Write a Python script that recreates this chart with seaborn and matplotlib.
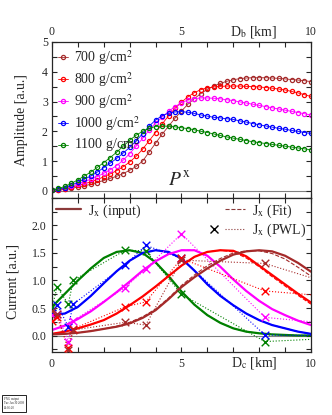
import numpy as np
import matplotlib
matplotlib.use('Agg')
import matplotlib.pyplot as plt
from matplotlib.lines import Line2D
from matplotlib.legend_handler import HandlerTuple
from matplotlib.ticker import MultipleLocator, FixedLocator, FormatStrFormatter
import seaborn as sns

# --- data ---
depths = ['700', '800', '900', '1000', '1100']
colors = ['#a52a2a', '#ff0000', '#ff00ff', '#0000ff', '#008000']

# top panel: amplitude vs D_b, sampled every 0.25 km
db_km = np.arange(0, 10.01, 0.25)
amp_700 = [0.02, 0.03, 0.05, 0.08, 0.13, 0.17, 0.22, 0.28, 0.35, 0.42, 0.49, 0.58, 0.69, 0.82, 1.00,
           1.30, 1.60, 1.90, 2.17, 2.44, 2.68, 2.91, 3.10, 3.27, 3.41, 3.52, 3.61, 3.68, 3.73, 3.77,
           3.79, 3.80, 3.80, 3.80, 3.79, 3.78, 3.76, 3.74, 3.72, 3.70, 3.67]
amp_800 = [0.02, 0.04, 0.07, 0.12, 0.18, 0.24, 0.30, 0.38, 0.47, 0.57, 0.68, 0.81, 0.97, 1.16, 1.40,
           1.68, 1.96, 2.24, 2.52, 2.77, 2.98, 3.16, 3.30, 3.40, 3.46, 3.49, 3.51, 3.52, 3.52, 3.52,
           3.51, 3.50, 3.49, 3.47, 3.45, 3.42, 3.39, 3.34, 3.29, 3.23, 3.17]
amp_900 = [0.03, 0.05, 0.09, 0.15, 0.23, 0.31, 0.39, 0.48, 0.59, 0.71, 0.85, 1.03, 1.25, 1.50, 1.76,
           2.04, 2.28, 2.48, 2.67, 2.83, 2.96, 3.05, 3.10, 3.12, 3.12, 3.11, 3.09, 3.06, 3.03, 2.99,
           2.95, 2.91, 2.87, 2.83, 2.79, 2.75, 2.71, 2.67, 2.63, 2.59, 2.55]
amp_1000 = [0.03, 0.06, 0.11, 0.19, 0.29, 0.39, 0.50, 0.63, 0.78, 0.93, 1.09, 1.27, 1.46, 1.68, 1.92,
            2.17, 2.38, 2.52, 2.61, 2.65, 2.66, 2.64, 2.60, 2.55, 2.51, 2.47, 2.45, 2.42, 2.40, 2.35,
            2.31, 2.26, 2.22, 2.18, 2.14, 2.10, 2.07, 2.03, 2.00, 1.96, 1.93]
amp_1100 = [0.03, 0.08, 0.15, 0.25, 0.37, 0.50, 0.63, 0.79, 0.95, 1.12, 1.30, 1.50, 1.70, 1.87, 2.00,
            2.10, 2.16, 2.18, 2.17, 2.15, 2.12, 2.09, 2.05, 2.00, 1.96, 1.91, 1.86, 1.81, 1.77, 1.73,
            1.69, 1.65, 1.62, 1.59, 1.56, 1.53, 1.50, 1.47, 1.44, 1.41, 1.38]

# bottom panel: current vs D_c, every 0.5 km
dc_km = np.arange(0, 10.01, 0.5)
cur_700 = [0.02, 0.03, 0.05, 0.08, 0.12, 0.16, 0.22, 0.32, 0.46, 0.66, 0.88, 1.06, 1.22, 1.36, 1.47,
           1.53, 1.55, 1.53, 1.45, 1.32, 1.16]
cur_800 = [0.03, 0.07, 0.13, 0.20, 0.28, 0.40, 0.55, 0.71, 0.89, 1.08, 1.27, 1.43, 1.52, 1.55, 1.54,
           1.44, 1.27, 1.10, 0.93, 0.76, 0.60]
cur_900 = [0.10, 0.18, 0.30, 0.44, 0.61, 0.79, 0.98, 1.18, 1.35, 1.48, 1.55, 1.55, 1.45, 1.25, 1.02,
           0.81, 0.63, 0.48, 0.37, 0.27, 0.19]
cur_1000 = [0.37, 0.40, 0.52, 0.72, 0.95, 1.17, 1.36, 1.50, 1.55, 1.52, 1.40, 1.18, 0.93, 0.72, 0.55,
            0.40, 0.28, 0.19, 0.13, 0.07, 0.03]
cur_1100 = [0.52, 0.76, 1.00, 1.22, 1.41, 1.52, 1.55, 1.50, 1.33, 1.08, 0.80, 0.56, 0.37, 0.23, 0.13,
            0.07, 0.04, 0.02, 0.01, 0.00, 0.00]

fit_700 = [0.02, 0.03, 0.05, 0.08, 0.12, 0.17, 0.24, 0.34, 0.48, 0.68, 0.91, 1.10, 1.27, 1.40, 1.50,
           1.54, 1.54, 1.49, 1.39, 1.24, 1.08]
fit_800 = [0.03, 0.07, 0.13, 0.20, 0.28, 0.40, 0.55, 0.71, 0.89, 1.08, 1.27, 1.43, 1.52, 1.55, 1.52,
           1.41, 1.25, 1.07, 0.90, 0.73, 0.57]
fit_900 = cur_900
fit_1000 = cur_1000
fit_1100 = cur_1100

# piecewise-linear nodes (crosses) and the value the dotted line runs on to at 10 km
pwl_x = [0.0, 0.2, 0.63, 0.82, 2.82, 3.62, 5.0, 8.22]
pwl_700 = [0.45, 0.40, -0.27, 0.10, 0.24, 0.19, 1.37, 1.31]
pwl_800 = [0.26, 0.33, -0.22, 0.12, 0.52, 0.61, 1.40, 0.81]
pwl_900 = [0.38, 0.40, -0.11, 0.27, 0.87, 1.21, 1.85, 0.33]
pwl_1000 = [0.41, 0.56, 0.16, 0.57, 1.28, 1.64, 1.40, 0.01]
pwl_1100 = [0.51, 0.88, 0.57, 1.00, 1.55, 1.54, 0.75, -0.11]
pwl_end = [1.05, 0.74, 0.25, 0.00, -0.07]

current_ticks = [0.0, 0.5, 1.0, 1.5, 2.0]

amps = [amp_700, amp_800, amp_900, amp_1000, amp_1100]
currents = [cur_700, cur_800, cur_900, cur_1000, cur_1100]
fits = [fit_700, fit_800, fit_900, fit_1000, fit_1100]
pwls = [pwl_700, pwl_800, pwl_900, pwl_1000, pwl_1100]

sns.set_style('ticks')
plt.rcParams['font.family'] = ['Liberation Serif', 'DejaVu Serif']
plt.rcParams['mathtext.fontset'] = 'stix'

fig = plt.figure(figsize=(3.32, 4.15), dpi=100)
ax1 = fig.add_axes([0.1566, 0.5229, 0.78, 0.3759])
ax2 = fig.add_axes([0.1566, 0.1518, 0.78, 0.3711])

# --- top panel ---
for d, c, a in zip(depths, colors, amps):
    sns.lineplot(x=db_km, y=a, color=c, lw=0.6, marker='o', markersize=3,
                 markerfacecolor='none', markeredgecolor=c, markeredgewidth=0.9,
                 label=f'{d} g/cm$^2$', ax=ax1)
ax1.axhline(0, color='grey', lw=0.8, zorder=0)
ax1.set_xlim(0, 10)
ax1.set_ylim(-0.24, 5)
ax1.xaxis.set_major_locator(MultipleLocator(5))
ax1.xaxis.set_minor_locator(MultipleLocator(1))
ax1.yaxis.set_major_locator(MultipleLocator(1))
ax1.yaxis.set_minor_locator(MultipleLocator(0.5))
ax1.tick_params(which='both', direction='in', top=True, right=True, labeltop=True,
                labelbottom=False, length=3.5, width=0.8, labelsize=8.5, pad=3)
ax1.set_ylabel('Amplitude [a.u.]', fontsize=10)
ax1.yaxis.set_label_coords(-0.093, 0.5)
ax1.text(7.8, 1.064, 'D$_\\mathrm{b}$ [km]', transform=ax1.get_xaxis_transform(),
         ha='center', va='center', fontsize=10)
ax1.text(4.9, 0.37, '$P^{\\mathrm{x}}$', fontsize=14, ha='center', va='center')
ax1.legend(loc='upper left', frameon=False, fontsize=10, handlelength=0.7,
           handletextpad=0.45, labelspacing=0.22, borderaxespad=0.25, borderpad=0.2)

# --- bottom panel ---
for c, y, f, p, e in zip(colors[::-1], currents[::-1], fits[::-1], pwls[::-1], pwl_end[::-1]):
    sns.lineplot(x=pwl_x + [10.0], y=p + [e], color=c, lw=0.8, linestyle=':', ax=ax2)
    sns.scatterplot(x=pwl_x, y=p, color=c, marker='x', s=30, linewidth=1.0, ax=ax2, zorder=4)
    sns.lineplot(x=dc_km, y=f, color=c, lw=0.8, linestyle='--', ax=ax2)
    sns.lineplot(x=dc_km, y=y, color=c, lw=1.6, ax=ax2)
ax2.axhline(0, color='grey', lw=0.8, zorder=0)
ax2.set_xlim(0, 10)
ax2.set_ylim(-0.3, 2.5)
ax2.xaxis.set_major_locator(MultipleLocator(5))
ax2.xaxis.set_minor_locator(MultipleLocator(1))
ax2.yaxis.set_major_locator(FixedLocator(current_ticks))
ax2.yaxis.set_minor_locator(MultipleLocator(0.25))
ax2.yaxis.set_major_formatter(FormatStrFormatter('%.1f'))
ax2.tick_params(which='both', direction='in', top=True, right=True,
                length=3.5, width=0.8, labelsize=8.5, pad=4)
ax2.set_ylabel('Current [a.u.]', fontsize=10)
ax2.yaxis.set_label_coords(-0.124, 0.455)
ax2.text(7.8, -0.071, 'D$_\\mathrm{c}$ [km]', transform=ax2.get_xaxis_transform(),
         ha='center', va='center', fontsize=10)

lc = '#8b3a3a'
h_in = Line2D([], [], color=lc, lw=1.6)
h_blank = Line2D([], [], linestyle='none')
h_fit = Line2D([], [], color=lc, lw=0.8, linestyle='--')
h_x = Line2D([], [], color='black', marker='x', linestyle='none', markersize=6, mew=1.0)
h_dot = Line2D([], [], color=lc, lw=0.8, linestyle=':')
leg2 = ax2.legend([h_in], ['J$_\\mathrm{x}$ (input)'], loc='upper left', frameon=False,
                  fontsize=10, handlelength=1.8, handletextpad=0.5, borderaxespad=0.1,
                  borderpad=0.2)
ax2.add_artist(leg2)
ax2.legend([(h_blank, h_fit), (h_x, h_dot)], ['J$_\\mathrm{x}$ (Fit)', 'J$_\\mathrm{x}$ (PWL)'],
           handler_map={tuple: HandlerTuple(ndivide=None, pad=0)}, loc='upper right',
           frameon=False, fontsize=10, handlelength=3.0, handletextpad=0.5,
           labelspacing=0.15, borderaxespad=0.1, borderpad=0.2)

for ax in (ax1, ax2):
    for s in ax.spines.values():
        s.set_linewidth(0.9)

# small stamp box in the corner
fig.text(0.012, 0.012, 'PNG output\nTue Jun 30 2009\n14:05:20', fontsize=2.2,
         ha='left', va='bottom',
         bbox=dict(boxstyle='square,pad=0.6', fc='white', ec='black', lw=0.6))

fig.savefig('out.png', dpi=100)
